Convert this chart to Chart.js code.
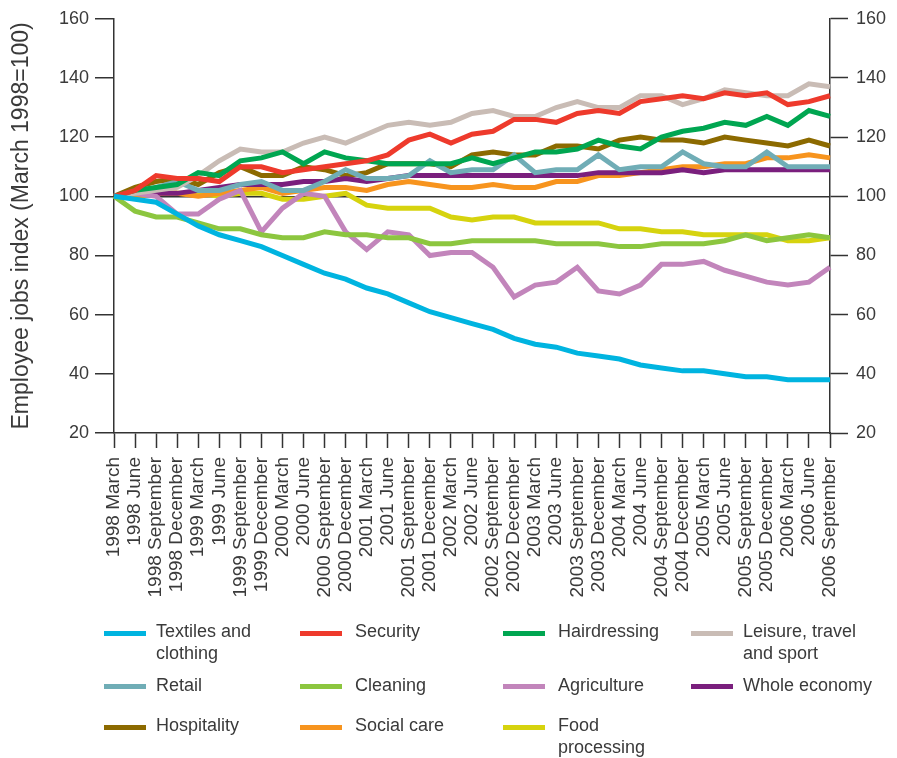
<!DOCTYPE html>
<html>
<head>
<meta charset="utf-8">
<script src="https://cdn.jsdelivr.net/npm/chart.js@4.4.1/dist/chart.umd.min.js"></script>
<style>
body { margin: 0; background: #fff; }
#wrap { position: relative; width: 897px; height: 758px; }
#legend { position: absolute; left: 0; top: 0; width: 897px; height: 758px; pointer-events: none; }
.lg-sw { position: absolute; width: 42px; height: 5px; }
.lg-tx { position: absolute; font: 18px "Liberation Sans", Arial, sans-serif; line-height: 22px; color: #3a3a3a; white-space: pre; }
</style>
</head>
<body>
<div id="wrap">
  <canvas id="jobs" width="897" height="758"></canvas>
  <div id="legend"></div>
</div>
<script>
"use strict";

const quarters = [
    '1998 March', '1998 June', '1998 September', '1998 December',
    '1999 March', '1999 June', '1999 September', '1999 December',
    '2000 March', '2000 June', '2000 September', '2000 December',
    '2001 March', '2001 June', '2001 September', '2001 December',
    '2002 March', '2002 June', '2002 September', '2002 December',
    '2003 March', '2003 June', '2003 September', '2003 December',
    '2004 March', '2004 June', '2004 September', '2004 December',
    '2005 March', '2005 June', '2005 September', '2005 December',
    '2006 March', '2006 June', '2006 September'
];

const textiles = [100, 99, 98, 94, 90, 87, 85, 83, 80, 77, 74, 72, 69, 67, 64, 61, 59, 57, 55, 52, 50, 49, 47, 46, 45, 43, 42, 41, 41, 40, 39, 39, 38, 38, 38];
const security = [100, 102, 107, 106, 106, 105, 110, 110, 108, 109, 110, 111, 112, 114, 119, 121, 118, 121, 122, 126, 126, 125, 128, 129, 128, 132, 133, 134, 133, 135, 134, 135, 131, 132, 134];
const hairdressing = [100, 102, 103, 104, 108, 107, 112, 113, 115, 111, 115, 113, 112, 111, 111, 111, 111, 113, 111, 113, 115, 115, 116, 119, 117, 116, 120, 122, 123, 125, 124, 127, 124, 129, 127];
const leisure = [100, 101, 102, 103, 107, 112, 116, 115, 115, 118, 120, 118, 121, 124, 125, 124, 125, 128, 129, 127, 127, 130, 132, 130, 130, 134, 134, 131, 133, 136, 135, 134, 134, 138, 137];
const retail = [100, 101, 103, 105, 102, 102, 104, 105, 102, 102, 105, 109, 106, 106, 107, 112, 108, 109, 109, 114, 108, 109, 109, 114, 109, 110, 110, 115, 111, 110, 110, 115, 110, 110, 110];
const cleaning = [100, 95, 93, 93, 91, 89, 89, 87, 86, 86, 88, 87, 87, 86, 86, 84, 84, 85, 85, 85, 85, 84, 84, 84, 83, 83, 84, 84, 84, 85, 87, 85, 86, 87, 86];
const agriculture = [100, 101, 100, 94, 94, 99, 102, 88, 96, 101, 100, 88, 82, 88, 87, 80, 81, 81, 76, 66, 70, 71, 76, 68, 67, 70, 77, 77, 78, 75, 73, 71, 70, 71, 76];
const wholeEconomy = [100, 101, 101, 101, 102, 103, 104, 104, 104, 105, 105, 106, 105, 106, 107, 107, 107, 107, 107, 107, 107, 107, 107, 108, 108, 108, 108, 109, 108, 109, 109, 109, 109, 109, 109];
const hospitality = [100, 103, 105, 106, 104, 108, 110, 107, 107, 110, 109, 107, 108, 111, 111, 111, 110, 114, 115, 114, 114, 117, 117, 116, 119, 120, 119, 119, 118, 120, 119, 118, 117, 119, 117];
const socialCare = [100, 100, 101, 101, 100, 101, 102, 103, 101, 102, 103, 103, 102, 104, 105, 104, 103, 103, 104, 103, 103, 105, 105, 107, 107, 108, 109, 110, 110, 111, 111, 113, 113, 114, 113];
const foodProcessing = [100, 100, 101, 101, 101, 100, 101, 101, 99, 99, 100, 101, 97, 96, 96, 96, 93, 92, 93, 93, 91, 91, 91, 91, 89, 89, 88, 88, 87, 87, 87, 87, 85, 85, 86];

const seriesNames = [
    'Textiles and\nclothing', 'Security', 'Hairdressing', 'Leisure, travel\nand sport',
    'Retail', 'Cleaning', 'Agriculture', 'Whole economy',
    'Hospitality', 'Social care', 'Food\nprocessing'
];
const seriesData = [textiles, security, hairdressing, leisure, retail, cleaning, agriculture, wholeEconomy, hospitality, socialCare, foodProcessing];
const seriesColors = ['#00b4e0', '#ee3a2c', '#00a651', '#c9bcb5', '#70adb6', '#8cc63f', '#c285bb', '#7a1f7d', '#8c6a00', '#f7941e', '#d6d30e'];

const TEXT = '#3a3a3a';
const AXIS = '#333333';
const FONT = '"Liberation Sans", Arial, sans-serif';

const ctx = document.getElementById('jobs').getContext('2d');
const jobsChart = new Chart(ctx, {
    type: 'line',
    data: {
        labels: quarters,
        datasets: seriesData.map((d, i) => ({
            label: seriesNames[i],
            data: d,
            borderColor: seriesColors[i],
            backgroundColor: seriesColors[i],
            borderWidth: 5,
            pointRadius: 0,
            tension: 0,
            fill: false
        }))
    },
    options: {
        responsive: false,
        animation: false,
        layout: {
            padding: { top: 17, bottom: 140, left: 0, right: 0 }
        },
        scales: {
            x: {
                grid: {
                    drawOnChartArea: false,
                    tickLength: 15,
                    tickColor: AXIS,
                    tickWidth: 1.5
                },
                border: { color: AXIS, width: 1.5 },
                ticks: {
                    autoSkip: false,
                    maxRotation: 90,
                    minRotation: 90,
                    padding: 9,
                    color: TEXT,
                    font: { family: FONT, size: 19 }
                },
                afterFit: s => { s.height = 185; }
            },
            y: {
                position: 'left',
                min: 20,
                max: 160,
                ticks: {
                    stepSize: 20,
                    padding: 6,
                    color: TEXT,
                    font: { family: FONT, size: 18 }
                },
                grid: {
                    color: c => c.tick && c.tick.value === 100 ? AXIS : 'rgba(0,0,0,0)',
                    lineWidth: 1.5,
                    tickLength: 19,
                    tickColor: AXIS,
                    tickWidth: 1.5
                },
                border: { color: AXIS, width: 1.5 },
                title: {
                    display: true,
                    text: 'Employee jobs index (March 1998=100)',
                    color: TEXT,
                    font: { family: FONT, size: 23 },
                    padding: { top: 8, bottom: 0 }
                },
                afterFit: s => { s.width = 114; }
            },
            y2: {
                position: 'right',
                min: 20,
                max: 160,
                ticks: {
                    stepSize: 20,
                    padding: 8,
                    color: TEXT,
                    font: { family: FONT, size: 18 }
                },
                grid: {
                    drawOnChartArea: false,
                    tickLength: 18,
                    tickColor: AXIS,
                    tickWidth: 1.5
                },
                border: { color: AXIS, width: 1.5 },
                afterFit: s => { s.width = 67; }
            }
        },
        plugins: {
            legend: { display: false },
            tooltip: { enabled: false }
        }
    }
});

// legend in html, four columns, labels wrap like the original
const legendCols = [{ sw: 104, tx: 156 }, { sw: 300, tx: 355 }, { sw: 503, tx: 558 }, { sw: 691, tx: 743 }];
const legendRows = [{ sw: 631, tx: 620 }, { sw: 684, tx: 674 }, { sw: 725, tx: 714 }];
const legendBox = document.getElementById('legend');
seriesNames.forEach((name, i) => {
    const col = legendCols[i % 4];
    const row = legendRows[Math.floor(i / 4)];
    const sw = document.createElement('div');
    sw.className = 'lg-sw';
    sw.style.left = col.sw + 'px';
    sw.style.top = row.sw + 'px';
    sw.style.background = seriesColors[i];
    legendBox.appendChild(sw);
    const tx = document.createElement('div');
    tx.className = 'lg-tx';
    tx.style.left = col.tx + 'px';
    tx.style.top = row.tx + 'px';
    tx.textContent = name;
    legendBox.appendChild(tx);
});
</script>
</body>
</html>
